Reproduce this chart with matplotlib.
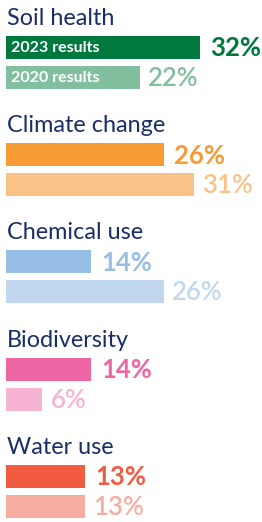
import matplotlib
matplotlib.use("Agg")
import matplotlib.pyplot as plt

# data
categories = ["Soil health", "Climate change", "Chemical use", "Biodiversity", "Water use"]
results_2023 = [32, 26, 14, 14, 13]
results_2020 = [22, 31, 26, 6, 13]
colors_2023 = ["#00793F", "#F79B34", "#97BEE6", "#EF66A4", "#F15B40"]
colors_2020 = ["#82BF9F", "#F9C388", "#C1D7EE", "#F6B3D2", "#F7ACA0"]
series_labels = ["2023 results", "2020 results"]

navy = "#1A2E66"
font = "Lato"

fig = plt.figure(figsize=(2.62, 5.22), dpi=100)
ax = fig.add_axes([0, 0, 1, 1])
px = 6.07  # pixels per percent
ax.set_xlim(-6 / px, (262 - 6) / px)
ax.set_ylim(522, 0)
ax.axis("off")

bar_h = 23
for i, cat in enumerate(categories):
    y1 = 47.5 + 107.2 * i
    y2 = y1 + 30
    ax.barh(y1, results_2023[i], height=bar_h, color=colors_2023[i], left=0)
    ax.barh(y2, results_2020[i], height=bar_h, color=colors_2020[i], left=0)
    ax.text(0.1, y1 - bar_h / 2 - 11, cat, color=navy, fontsize=16.8,
            family=font, va="baseline", ha="left")
    ax.text(results_2023[i] + 10 / px, y1 + 1, "%d%%" % results_2023[i],
            color=colors_2023[i], fontsize=18.5, fontweight="bold",
            family=font, va="center", ha="left")
    ax.text(results_2020[i] + 8 / px, y2 + 1, "%d%%" % results_2020[i],
            color=colors_2020[i], fontsize=18.5, fontweight="semibold",
            family=font, va="center", ha="left")
    if i == 0:
        ax.text(5 / px, y1 + 1, series_labels[0], color="white", fontsize=11.5,
                fontweight="bold", family=font, va="center", ha="left")
        ax.text(5 / px, y2 + 1, series_labels[1], color="white", fontsize=11.5,
                fontweight="bold", family=font, va="center", ha="left")

fig.savefig("out.png", dpi=100)
